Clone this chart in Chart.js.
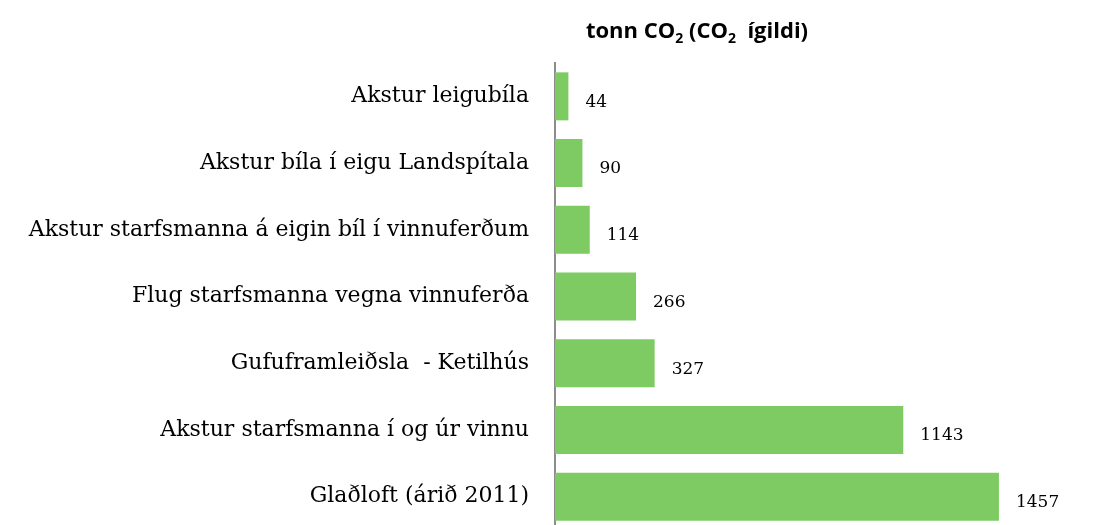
<!DOCTYPE html>
<html>
<head>
<meta charset="utf-8">
<script src="https://cdn.jsdelivr.net/npm/chart.js@4/dist/chart.umd.min.js"></script>
<style>
  html, body { margin: 0; padding: 0; background: #fff; overflow: hidden; }
  #wrap { position: relative; width: 1094px; height: 532px; }
</style>
</head>
<body>
<div id="wrap"><canvas id="chart"></canvas></div>
<script>
// Categories and values (tonn CO2 ígildi)
const categories = [
  'Akstur leigubíla',
  'Akstur bíla í eigu Landspítala',
  'Akstur starfsmanna á eigin bíl í vinnuferðum',
  'Flug starfsmanna vegna vinnuferða',
  'Gufuframleiðsla  - Ketilhús',
  'Akstur starfsmanna í og úr vinnu',
  'Glaðloft (árið 2011)'
];
const emissions = [44, 90, 114, 266, 327, 1143, 1457];

const barColor = '#7ECB64';
const serif = '"DejaVu Serif", serif';

// Title with subscripts: tonn CO2 (CO2  ígildi)
const titlePlugin = {
  id: 'titleSub',
  afterDraw(chart) {
    const ctx = chart.ctx;
    const parts = [
      ['tonn CO', false], ['2', true], [' (CO', false], ['2', true], ['  ígildi)', false]
    ];
    const big = 'bold 22px "Open Sans", sans-serif';
    const small = 'bold 14px "Open Sans", sans-serif';
    ctx.save();
    ctx.fillStyle = '#000';
    ctx.textBaseline = 'alphabetic';
    let total = 0;
    parts.forEach(p => { ctx.font = p[1] ? small : big; total += ctx.measureText(p[0]).width; });
    let x = 697 - total / 2;
    const y = 38;
    parts.forEach(p => {
      ctx.font = p[1] ? small : big;
      ctx.fillText(p[0], x, p[1] ? y + 5 : y);
      x += ctx.measureText(p[0]).width;
    });
    ctx.restore();
  }
};

// Value labels at the end of each bar
const valuePlugin = {
  id: 'values',
  afterDatasetsDraw(chart) {
    const ctx = chart.ctx;
    const meta = chart.getDatasetMeta(0);
    ctx.save();
    ctx.font = '17px ' + serif;
    ctx.fillStyle = '#000';
    ctx.textAlign = 'left';
    ctx.textBaseline = 'middle';
    meta.data.forEach((bar, i) => {
      ctx.fillText(String(emissions[i]), bar.x + 17, bar.y + 6);
    });
    ctx.restore();
  }
};

new Chart(document.getElementById('chart'), {
  type: 'bar',
  data: {
    labels: categories,
    datasets: [{
      data: emissions,
      backgroundColor: barColor,
      borderWidth: 0,
      barPercentage: 0.72,
      categoryPercentage: 1
    }]
  },
  options: {
    indexAxis: 'y',
    responsive: true,
    maintainAspectRatio: false,
    animation: false,
    layout: { padding: { top: 63, right: 21, bottom: 0, left: 0 } },
    plugins: { legend: { display: false }, tooltip: { enabled: false } },
    scales: {
      x: {
        min: 0,
        max: 1700,
        display: false
      },
      y: {
        grid: { display: false, drawTicks: false },
        border: { color: '#8c8c8c', width: 2 },
        ticks: {
          color: '#000',
          font: { family: serif, size: 22 },
          padding: 26
        },
        afterFit(scale) { scale.width = 555; }
      }
    }
  },
  plugins: [titlePlugin, valuePlugin,
    {
      id: 'fitArea',
      // stretch the plot area down to y=530 so the bottom bar is cut off like the source
      afterLayout(chart) {
        const area = chart.chartArea;
        const ys = chart.scales.y;
        area.bottom = 530;
        ys.bottom = 530;
        ys.height = area.bottom - area.top;
        ys.configure();
        ys.ticks.forEach(() => {});
      }
    }
  ]
});
</script>
</body>
</html>
